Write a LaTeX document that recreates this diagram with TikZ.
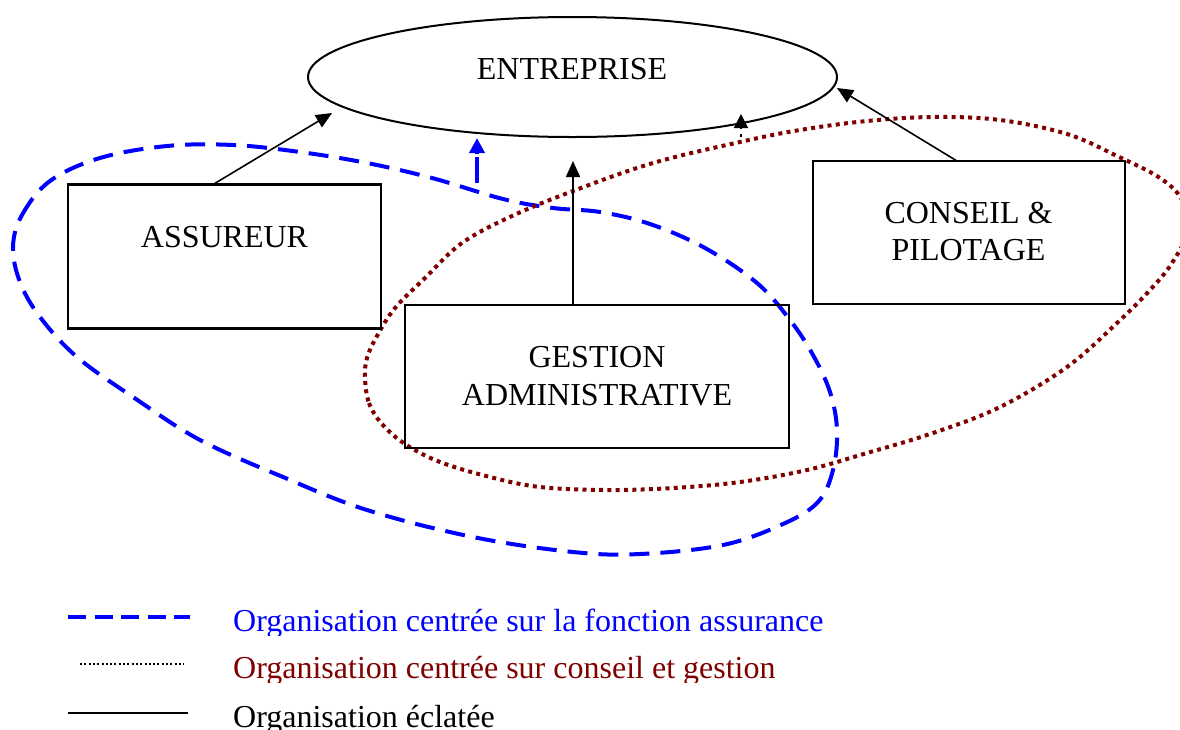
\documentclass[tikz,border=0pt]{standalone}
\usepackage{fontspec}
\setmainfont{Liberation Serif}
\usetikzlibrary{arrows.meta,shapes.geometric}
\definecolor{assblue}{RGB}{0,0,255}
\definecolor{condred}{RGB}{128,0,0}
\begin{document}
\begin{tikzpicture}[x=1pt,y=-1pt,
  box/.style={draw,line width=2.4pt,inner sep=0pt},
  lbl/.style={font=\fontsize{32}{37.5}\selectfont,align=center,inner sep=0pt},
  legtext/.style={font=\fontsize{32}{37}\selectfont,anchor=base west,inner sep=0pt},
  link/.style={line width=1.6pt,-{Triangle[length=16pt,width=14pt]}},
  bluedash/.style={assblue,line width=4pt,dash pattern=on 20pt off 11pt},
  reddot/.style={condred,line width=4pt,dash pattern=on 4pt off 4.3pt},
]
\useasboundingbox (0,0) rectangle (1180,729);

% grouping curves
\draw[bluedash] plot[smooth cycle,tension=0.6] coordinates {
 (13,247) (22,215) (50,181) (100,158) (167,146) (233,145) (300,152) (367,163)
 (432,178) (503,199) (553,208) (600,212) (650,224) (705,248) (757,283) (790,320)
 (813,355) (830,392) (837,430) (833,470) (818,502) (783,524) (723,545) (640,554)
 (573,552) (473,537) (367,510) (283,477) (200,440) (133,397) (77,357) (40,317) (20,282)};
\draw[reddot] plot[smooth cycle,tension=0.6] coordinates {
 (365,378) (369,403) (382,424) (405,444) (440,462) (490,477) (540,487) (607,490)
 (673,488) (740,482) (807,470) (867,453) (933,433) (1000,407) (1067,367) (1117,323)
 (1150,290) (1172,263) (1188,230) (1182,200) (1160,178) (1117,156) (1067,134)
 (1000,120) (933,117) (867,121) (800,130) (740,142) (653,163) (573,191) (512,216)
 (462,243) (425,278) (395,308) (377,336) (367,358)};

% main nodes
\node[ellipse,draw,line width=2pt,minimum width=529pt,minimum height=120pt,inner sep=0pt] (ent) at (572.5,77) {};
\node[lbl] (enttxt) at (572,69) {ENTREPRISE};

\node[box,minimum width=313pt,minimum height=144pt] (ass) at (224.5,256.5) {};
\node[lbl] (asstxt) at (224.5,237) {ASSUREUR};

\node[box,minimum width=312pt,minimum height=143pt] (con) at (969,232.5) {};
\node[lbl] (contxt) at (968.5,231.5) {CONSEIL \&\\PILOTAGE};

\node[box,minimum width=384pt,minimum height=143pt] (ges) at (597,376.5) {};
\node[lbl] (gestxt) at (597,376) {GESTION\\ADMINISTRATIVE};

% connectors
\coordinate (a1s) at (213,184.5);  \coordinate (a1t) at (332,113);
\coordinate (a2s) at (573,305);    \coordinate (a2t) at (573,161);
\coordinate (a3s) at (957,161);    \coordinate (a3t) at (837,88);
\coordinate (a4s) at (477,183);    \coordinate (a4t) at (477,138);
\coordinate (a5s) at (741,137);    \coordinate (a5t) at (741,114);
\draw[link] (a1s) -- (a1t);
\draw[link] (a2s) -- (a2t);
\draw[link] (a3s) -- (a3t);
\draw[assblue,line width=4pt,dash pattern=on 26pt off 3pt,-{Triangle[length=15pt,width=15pt]}] (a4s) -- (a4t);
\draw[line width=1.6pt,dash pattern=on 3pt off 6pt,-{Triangle[length=14pt,width=14pt]}] (a5s) -- (a5t);

% legend
\coordinate (l1a) at (68,617);  \coordinate (l1b) at (190,617);
\coordinate (l2a) at (80,664);  \coordinate (l2b) at (184,664);
\coordinate (l3a) at (68,713);  \coordinate (l3b) at (188,713);
\draw[assblue,line width=4pt,dash pattern=on 18pt off 8.5pt] (l1a) -- (l1b);
\draw[line width=2.4pt,dash pattern=on 2pt off 2.3pt] (l2a) -- (l2b);
\draw[line width=1.8pt] (l3a) -- (l3b);
\begin{scope}
\clip (220,590) rectangle (900,635);
\node[legtext,text=assblue] (leg1) at (233,631) {Organisation centrée sur la fonction assurance};
\end{scope}
\begin{scope}
\clip (220,640) rectangle (900,682);
\node[legtext,text=condred] (leg2) at (233,678) {Organisation centrée sur conseil et gestion};
\end{scope}
\node[legtext] (leg3) at (233,727) {Organisation éclatée};
\end{tikzpicture}
\end{document}
